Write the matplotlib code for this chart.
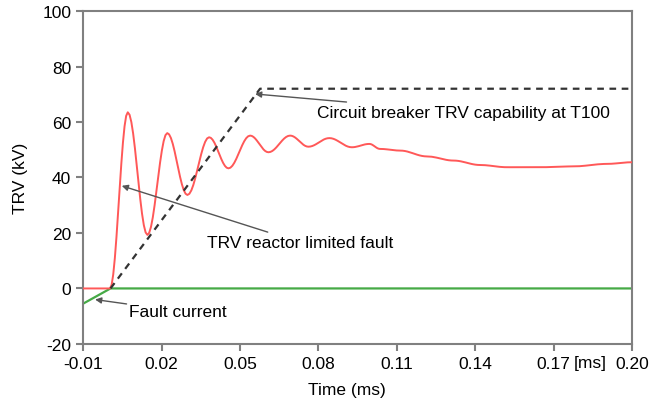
import matplotlib
matplotlib.use('Agg')
from matplotlib import pyplot as plt
import numpy as np

plt.rcParams['font.family'] = ['Liberation Sans', 'DejaVu Sans']
plt.rcParams['axes.unicode_minus'] = False

# TRV (kV) versus time (ms)
trv_t = [-0.01, 0.0003, 0.0071, 0.0146, 0.0222, 0.0299, 0.0382, 0.0456, 0.0539,
         0.0609, 0.0692, 0.0762, 0.0842, 0.0928, 0.0995, 0.1036, 0.1113, 0.1215,
         0.1317, 0.1419, 0.1521, 0.1648, 0.1776, 0.1903, 0.20]
trv_v = [0, 0, 63.5, 19.3, 56.0, 33.7, 54.5, 43.3, 55.1,
         49.1, 55.1, 51.1, 54.2, 50.9, 52.1, 50.3, 49.7, 47.6,
         46.1, 44.5, 43.7, 43.7, 44.0, 44.9, 45.5]

cap_t = [0.0005, 0.0577, 0.20]
cap_v = [0, 72, 72]

fault_t = [-0.01, 0.0005, 0.20]
fault_v = [-5.5, 0, 0]

x_ticks = [-0.01, 0.02, 0.05, 0.08, 0.11, 0.14, 0.17, 0.20]
x_labels = ['-0.01', '0.02', '0.05', '0.08', '0.11', '0.14', '0.17', '0.20']
y_ticks = [-20, 0, 20, 40, 60, 80, 100]

FS = 12.5


def smooth(ts, vs, n=12):
    # cosine easing between extrema, so the ringing looks like a wave
    xs, ys = [ts[0]], [vs[0]]
    for i in range(1, len(ts)):
        s = np.linspace(0, 1, n)[1:]
        w = (1 - np.cos(np.pi * s)) / 2
        xs.extend(ts[i - 1] + (ts[i] - ts[i - 1]) * s)
        ys.extend(vs[i - 1] + (vs[i] - vs[i - 1]) * w)
    return xs, ys


fig = plt.figure(figsize=(6.49, 4.02), dpi=100)
ax = fig.add_axes([0.128, 0.142, 0.846, 0.828])

ax.plot(fault_t, fault_v, color='#46aa46', lw=1.6, zorder=2)
xs, ys = smooth(trv_t[1:], trv_v[1:])
ax.plot([trv_t[0]] + list(xs), [trv_v[0]] + list(ys), color='#ff5858', lw=1.4, zorder=3)
ax.plot(cap_t, cap_v, color='#333333', lw=1.6, ls=(0, (3, 2.5)), zorder=4)

arrow = dict(arrowstyle='-|>', color='#555555', lw=1.0, mutation_scale=9, shrinkA=0, shrinkB=0)
ax.annotate('Circuit breaker TRV capability at T100', xy=(0.0558, 70.1), xytext=(0.0795, 63.5),
            fontsize=FS, va='center', ha='left', arrowprops=arrow)
ax.annotate('TRV reactor limited fault', xy=(0.0048, 37.0), xytext=(0.0374, 16.6),
            fontsize=FS, va='center', ha='left', arrowprops=arrow)
ax.annotate('Fault current', xy=(-0.0054, -4.0), xytext=(0.0077, -8.2),
            fontsize=FS, va='center', ha='left', arrowprops=arrow)

ax.set_xlim(-0.01, 0.20)
ax.set_ylim(-20, 100)
ax.set_xticks(x_ticks)
ax.set_xticklabels(x_labels)
ax.set_yticks(y_ticks)
ax.text(0.1775, -24.0, '[ms]', fontsize=FS, ha='left', va='top')

ax.set_xlabel('Time (ms)', fontsize=FS)
ax.xaxis.set_label_coords(0.48, -0.113)
ax.set_ylabel('TRV (kV)', fontsize=FS, labelpad=10)
ax.tick_params(axis='both', labelsize=FS, direction='out', length=5, width=1.5, color='#808080')
for sp in ax.spines.values():
    sp.set_color('#808080')
    sp.set_linewidth(1.5)

fig.savefig('out.png', dpi=100)
